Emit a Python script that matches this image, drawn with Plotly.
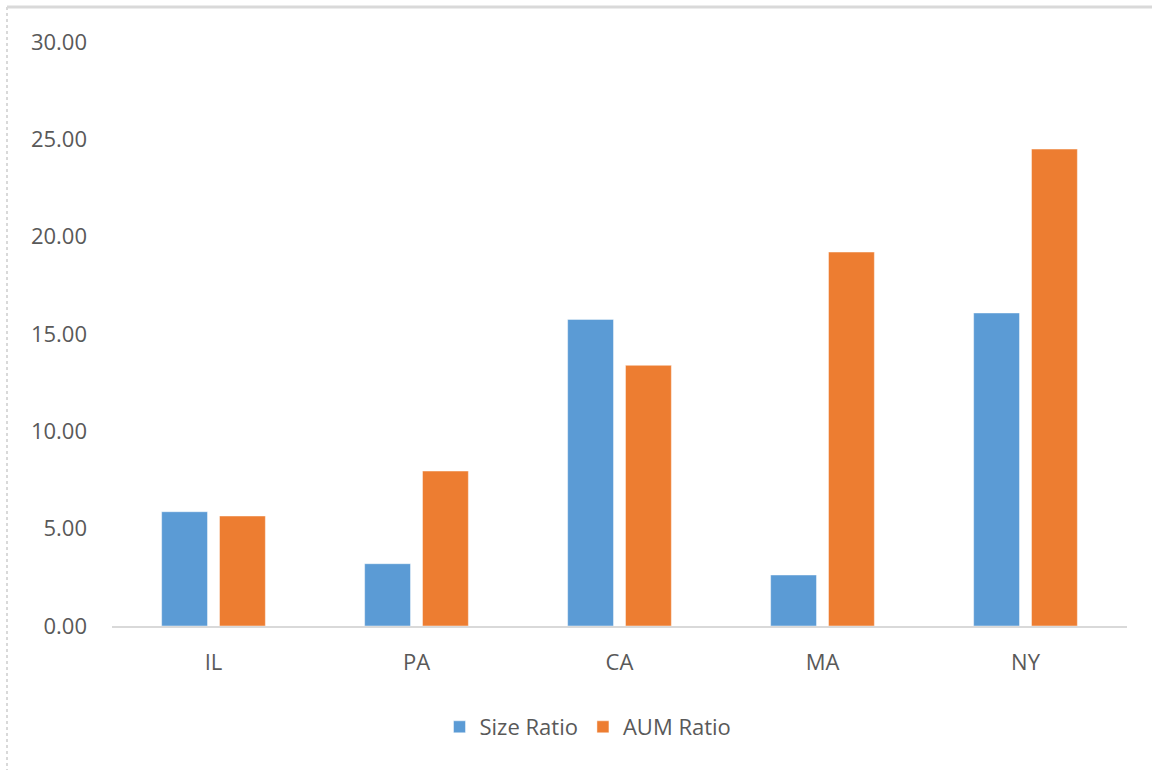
import plotly.graph_objects as go

# Ratios by state
states = ["IL", "PA", "CA", "MA", "NY"]
size_ratio = [5.87, 3.20, 15.75, 2.62, 16.08]
aum_ratio = [5.65, 7.96, 13.39, 19.21, 24.50]

BLUE = "#5B9BD5"
ORANGE = "#ED7D31"
TEXT = "#595959"
RULE = "#D9D9D9"
FONT = "Open Sans, Noto Sans, sans-serif"

W, H = 1152, 770
L, R, T, B = 112, 25, 42, 144

fig = go.Figure()
fig.add_trace(go.Bar(
    name="Size Ratio", x=states, y=size_ratio,
    marker=dict(color=BLUE, line=dict(color="rgba(255,255,255,0.45)", width=1)),
))
fig.add_trace(go.Bar(
    name="AUM Ratio", x=states, y=aum_ratio,
    marker=dict(color=ORANGE, line=dict(color="rgba(255,255,255,0.45)", width=1)),
))

pw = W - L - R
ph = H - T - B


def px_x(x):
    return (x - L) / pw


def px_y(y):
    return (H - B - y) / ph


# chart-area frame along the top and left edges
fig.add_shape(type="line", xref="paper", yref="paper",
              x0=px_x(7), x1=px_x(W + 5), y0=px_y(7), y1=px_y(7),
              line=dict(color=RULE, width=3), layer="below")
fig.add_shape(type="line", xref="paper", yref="paper",
              x0=px_x(7), x1=px_x(7), y0=px_y(7), y1=px_y(H + 5),
              line=dict(color=RULE, width=2, dash="dot"), layer="below")

fig.update_layout(
    width=W, height=H,
    margin=dict(l=L, r=R, t=T, b=B),
    paper_bgcolor="white", plot_bgcolor="white",
    barmode="group", bargap=0.43, bargroupgap=0.207,
    font=dict(family=FONT, color=TEXT, size=22),
    showlegend=True,
    legend=dict(orientation="h", x=px_x(588), xanchor="center",
                y=px_y(727), yanchor="middle",
                font=dict(family=FONT, color=TEXT, size=22),
                itemwidth=30, traceorder="normal"),
    xaxis=dict(showgrid=False, showline=True, linecolor=RULE, linewidth=2,
               ticks="", ticklabelstandoff=16,
               tickfont=dict(family=FONT, color=TEXT, size=22)),
    yaxis=dict(range=[0, 30], tickvals=[0, 5, 10, 15, 20, 25, 30],
               tickformat=".2f", showgrid=False, zeroline=False,
               showline=False, ticks="", ticklabelstandoff=24,
               tickfont=dict(family=FONT, color=TEXT, size=22)),
)

fig.write_html("out.html")
